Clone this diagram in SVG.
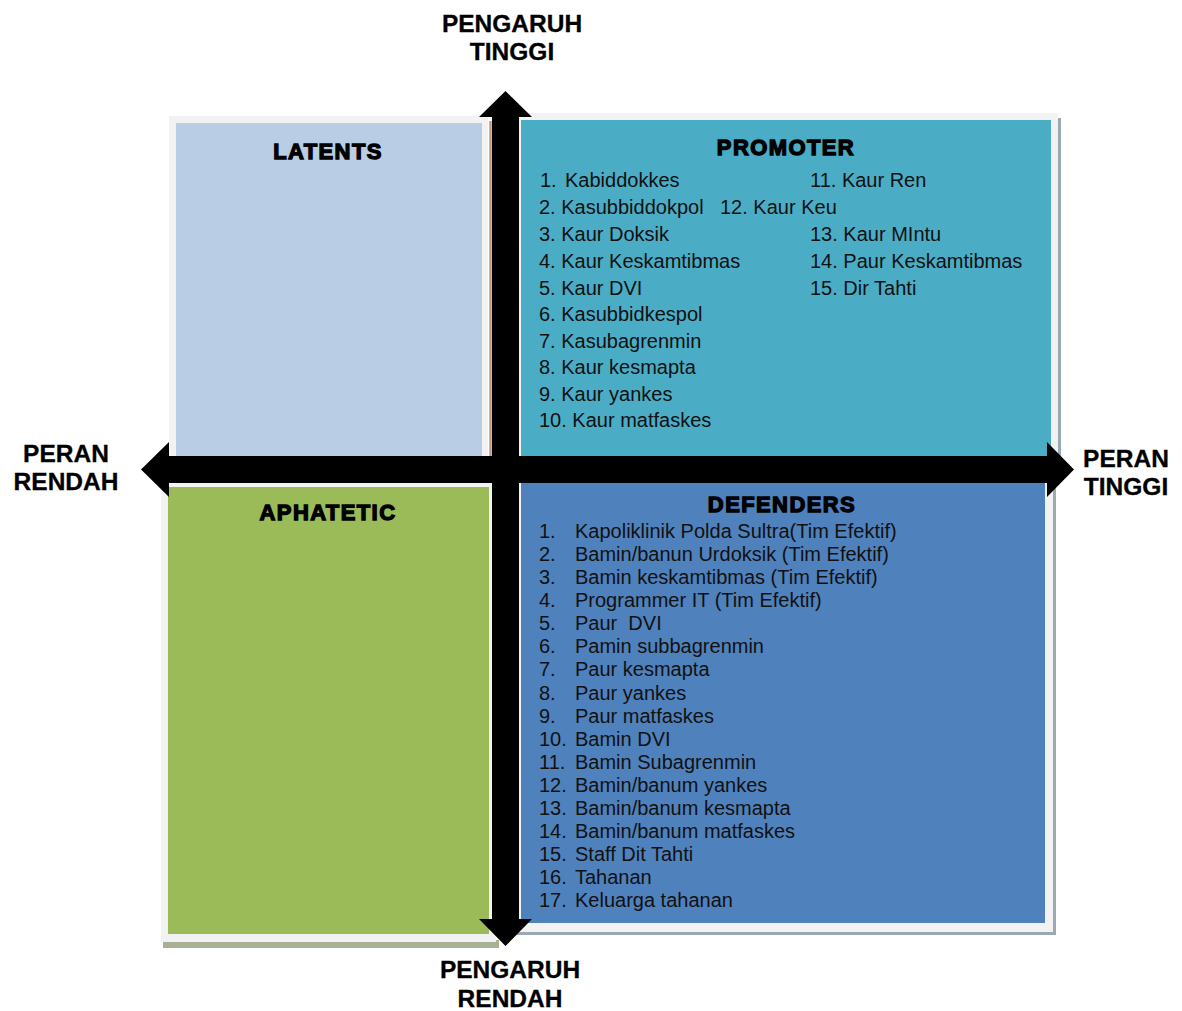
<svg xmlns="http://www.w3.org/2000/svg" width="1182" height="1011" viewBox="0 0 1182 1011">
<style>
.axis{font-family:"Liberation Sans",Arial,sans-serif;font-weight:bold;font-size:24.5px;fill:#000;text-anchor:middle;stroke:#000;stroke-width:0.3}
.title{font-family:"Liberation Sans",Arial,sans-serif;font-weight:bold;font-size:22px;fill:#000;stroke:#000;stroke-width:1.3;letter-spacing:1.4px;text-anchor:middle}
.item{font-family:"Liberation Sans",Arial,sans-serif;font-size:20px;fill:#111}
.frame{fill:#F2F2F2}
.shadow{fill:#9CA8B4}
.arrow{fill:#000}
</style>
<rect width="1182" height="1011" fill="#FFFFFF"/>

<g id="latents">
  <rect class="frame" x="169" y="116" width="319" height="342"/>
  <rect x="176" y="123" width="306" height="333" fill="#B9CDE5"/>
  <line x1="490.5" y1="121" x2="490.5" y2="456" stroke="#C49A7C" stroke-width="2.5"/>
  <text class="title" x="328" y="159">LATENTS</text>
</g>

<g id="promoter">
  <rect class="shadow" x="1056" y="118" width="5" height="340"/>
  <rect class="frame" x="515" y="113" width="543" height="345"/>
  <rect x="521" y="120" width="530" height="338" fill="#4BACC6"/>
  <text class="title" x="786" y="155">PROMOTER</text>
  <text class="item" x="540" y="187">1.<tspan x="565">Kabiddokkes</tspan></text>
  <text class="item" x="539" y="214">2. Kasubbiddokpol</text>
  <text class="item" x="539" y="241">3. Kaur Doksik</text>
  <text class="item" x="539" y="268">4. Kaur Keskamtibmas</text>
  <text class="item" x="539" y="295">5. Kaur DVI</text>
  <text class="item" x="539" y="321">6. Kasubbidkespol</text>
  <text class="item" x="539" y="348">7. Kasubagrenmin</text>
  <text class="item" x="539" y="374">8. Kaur kesmapta</text>
  <text class="item" x="539" y="401">9. Kaur yankes</text>
  <text class="item" x="539" y="427">10. Kaur matfaskes</text>
  <text class="item" x="810" y="187">11. Kaur Ren</text>
  <text class="item" x="720" y="214">12. Kaur Keu</text>
  <text class="item" x="810" y="241">13. Kaur MIntu</text>
  <text class="item" x="810" y="268">14. Paur Keskamtibmas</text>
  <text class="item" x="810" y="295">15. Dir Tahti</text>
</g>

<g id="aphatetic">
  <rect x="163" y="940" width="336" height="8" fill="#A9B195"/>
  <rect class="frame" x="161" y="483" width="335" height="459"/>
  <rect x="168" y="487" width="321" height="447" fill="#9BBB59"/>
  <text class="title" x="328" y="520">APHATETIC</text>
</g>

<g id="defenders">
  <rect class="shadow" x="1050" y="470" width="6" height="465"/>
  <rect class="shadow" x="515" y="930" width="541" height="5"/>
  <rect class="frame" x="515" y="470" width="538" height="462"/>
  <rect x="521" y="483" width="524" height="440" fill="#4F81BD"/>
  <text class="title" x="782" y="512">DEFENDERS</text>
  <g class="item">
    <text x="539" y="538">1.<tspan x="575">Kapoliklinik Polda Sultra(Tim Efektif)</tspan></text>
    <text x="539" y="561">2.<tspan x="575">Bamin/banun Urdoksik (Tim Efektif)</tspan></text>
    <text x="539" y="584">3.<tspan x="575">Bamin keskamtibmas (Tim Efektif)</tspan></text>
    <text x="539" y="607">4.<tspan x="575">Programmer IT (Tim Efektif)</tspan></text>
    <text x="539" y="630" xml:space="preserve">5.<tspan x="575">Paur  DVI</tspan></text>
    <text x="539" y="653">6.<tspan x="575">Pamin subbagrenmin</tspan></text>
    <text x="539" y="676">7.<tspan x="575">Paur kesmapta</tspan></text>
    <text x="539" y="700">8.<tspan x="575">Paur yankes</tspan></text>
    <text x="539" y="723">9.<tspan x="575">Paur matfaskes</tspan></text>
    <text x="539" y="746">10.<tspan x="575">Bamin DVI</tspan></text>
    <text x="539" y="769">11.<tspan x="575">Bamin Subagrenmin</tspan></text>
    <text x="539" y="792">12.<tspan x="575">Bamin/banum yankes</tspan></text>
    <text x="539" y="815">13.<tspan x="575">Bamin/banum kesmapta</tspan></text>
    <text x="539" y="838">14.<tspan x="575">Bamin/banum matfaskes</tspan></text>
    <text x="539" y="861">15.<tspan x="575">Staff Dit Tahti</tspan></text>
    <text x="539" y="884">16.<tspan x="575">Tahanan</tspan></text>
    <text x="539" y="907">17.<tspan x="575">Keluarga tahanan</tspan></text>
  </g>
</g>

<g id="connectors">
  <polygon class="arrow" points="505.5,91 532,117 519,117 519,919 532,919 505.5,946 479,919 492,919 492,117 479,117"/>
  <polygon class="arrow" points="141,469.5 169,442 169,456 1047,456 1047,442 1074,469.5 1047,497 1047,483 169,483 169,497"/>
</g>

<g id="axis-labels">
  <text class="axis" x="512" y="32">PENGARUH</text>
  <text class="axis" x="512" y="60">TINGGI</text>
  <text class="axis" x="66" y="462">PERAN</text>
  <text class="axis" x="66" y="490">RENDAH</text>
  <text class="axis" x="1126" y="467">PERAN</text>
  <text class="axis" x="1126" y="495">TINGGI</text>
  <text class="axis" x="510" y="978">PENGARUH</text>
  <text class="axis" x="510" y="1007">RENDAH</text>
</g>
</svg>
